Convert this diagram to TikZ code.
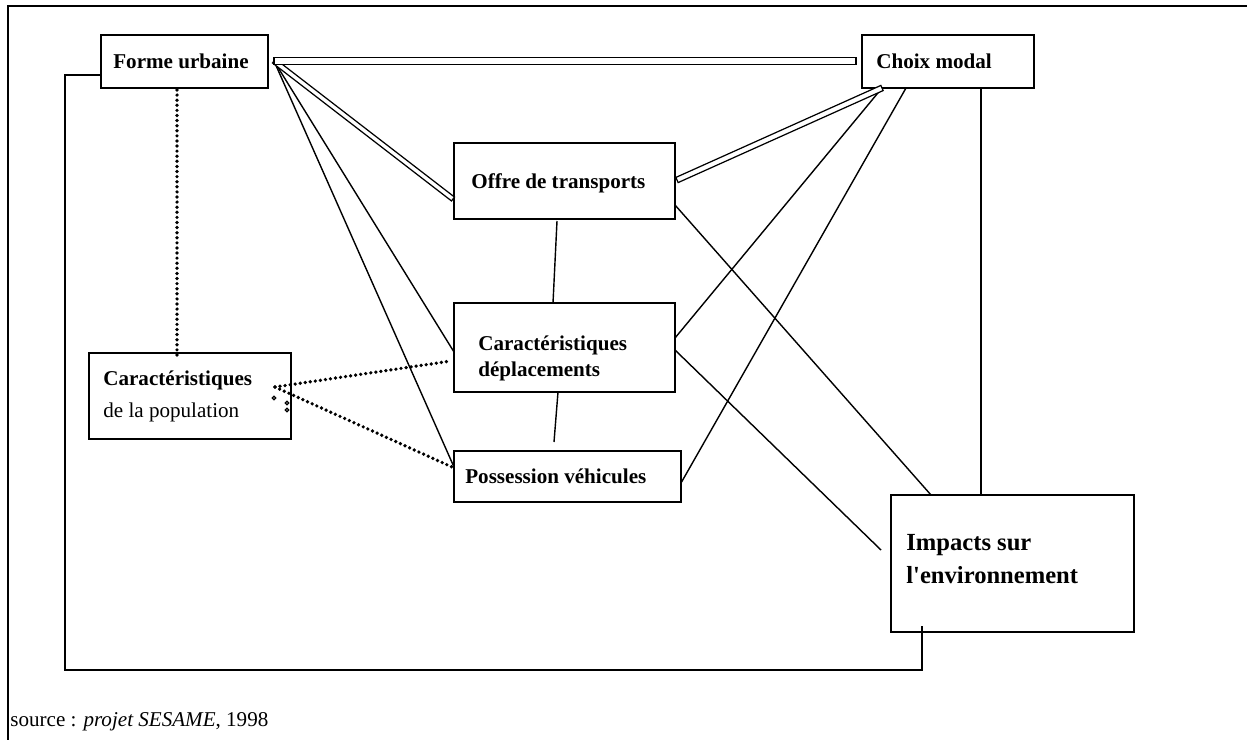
\documentclass[tikz,border=0pt]{standalone}
\usepackage{fontspec}
\setmainfont{Liberation Serif}
\newfontfamily\straightserif{Liberation Serif}[Ligatures=TeXOff]
\usetikzlibrary{fit,calc}
\tikzset{
  box/.style={draw, line width=0.8pt, inner sep=0pt},
  lbl/.style={anchor=base west, inner sep=0pt, font=\bfseries\fontsize{12}{14}\selectfont},
  biglbl/.style={anchor=base west, inner sep=0pt, font=\bfseries\fontsize{14}{16}\selectfont},
  plainlbl/.style={anchor=base west, inner sep=0pt, font=\fontsize{12}{14}\selectfont},
  link/.style={line width=0.8pt},
  dots/.style={line width=2.1pt, dash pattern=on 0pt off 2.9pt, line cap=round},
  hollow/.style={draw, fill=white, line width=0.7pt, line join=miter},
  tinyring/.style={draw, line width=0.7pt, fill=white},
}
\newcommand{\hollowlink}[3]{%
  \path[hollow] ($(#1)!#3!90:(#2)$) -- ($(#2)!#3!-90:(#1)$) -- ($(#2)!#3!90:(#1)$) -- ($(#1)!#3!-90:(#2)$) -- cycle;}
\begin{document}
\begin{tikzpicture}[x=0.02cm,y=-0.02cm]
\useasboundingbox (0,0) rectangle (1247,740);
\draw[line width=1.2pt] (8,740) -- (8,6) -- (1247,6);

% boxes
\node[box, fit={(101,35) (268,88)}] (fu) {};
\node[box, fit={(862,35) (1034,88)}] (cm) {};
\node[box, fit={(454,143) (675,219)}] (ot) {};
\node[box, fit={(454,303) (675,392)}] (cd) {};
\node[box, fit={(454,451) (681,502)}] (pv) {};
\node[box, fit={(89,353) (291,439)}] (cp) {};
\node[box, fit={(891,495) (1134,632)}] (im) {};

% labels
\node[lbl] (fut) at (113,69) {Forme urbaine};
\node[lbl] (cmt) at (876,69) {Choix modal};
\node[lbl] (ott) at (471,188) {Offre de transports};
\node[lbl] (cdt1) at (478,350) {Caractéristiques};
\node[lbl] (cdt2) at (478,376) {déplacements};
\node[lbl] (pvt) at (465,483) {Possession véhicules};
\node[lbl] (cpt1) at (103,385) {Caractéristiques};
\node[plainlbl] (cpt2) at (103,417) {de la population};
\node[biglbl] (imt1) at (906,550) {Impacts sur};
\node[biglbl] (imt2) at (906,583) {l{\straightserif\bfseries '}environnement};
\node[plainlbl] (src) at (10,726) {source : \textit{projet SESAME}, 1998};

% connector end points
\coordinate (fuL) at (101,75);
\coordinate (imB) at (922,626);
\coordinate (fuB) at (177,90);
\coordinate (cpT) at (177,359);
\coordinate (fuR) at (274,61);
\coordinate (cmL) at (856,61);
\coordinate (otL) at (453,199);
\coordinate (otR) at (677,180);
\coordinate (cmA) at (882,88);
\coordinate (cmB) at (906,88);
\coordinate (cmC) at (981,88);
\coordinate (cdL) at (454,352);
\coordinate (pvL) at (454,467);
\coordinate (cdR) at (675,338);
\coordinate (pvR) at (681,483);
\coordinate (imT) at (981,495);
\coordinate (otR2) at (675,205);
\coordinate (imT2) at (931,495);
\coordinate (cdR2) at (675,350);
\coordinate (imL) at (881,550);
\coordinate (otB) at (557,221);
\coordinate (cdT) at (553,303);
\coordinate (cdB) at (558,392);
\coordinate (pvT) at (554,442);
\coordinate (cpR) at (275,387);
\coordinate (cdL2) at (451,361);
\coordinate (pvL2) at (452,467);

% loop from Forme urbaine to Impacts
\draw[link] (fuL) -- (65,75) |- (922,670) -- (imB);

% dotted links
\draw[dots] (fuB) -- (cpT);
\draw[dots] (cpR) -- (cdL2);
\draw[dots] (cpR) -- (pvL2);
\draw[tinyring] (274,398) circle (1.8);
\draw[tinyring] (287,403) circle (1.8);
\draw[tinyring] (287,410) circle (1.8);

% single links
\draw[link] (fuR) -- (cdL);
\draw[link] (fuR) -- (pvL);
\draw[link] (cmA) -- (cdR);
\draw[link] (cmB) -- (pvR);
\draw[link] (cmC) -- (imT);
\draw[link] (otR2) -- (imT2);
\draw[link] (cdR2) -- (imL);
\draw[link] (otB) -- (cdT);
\draw[link] (cdB) -- (pvT);

% hollow links
\hollowlink{fuR}{otL}{1.4pt}
\hollowlink{fuR}{cmL}{2pt}
\hollowlink{otR}{cmA}{1.6pt}
\end{tikzpicture}
\end{document}
